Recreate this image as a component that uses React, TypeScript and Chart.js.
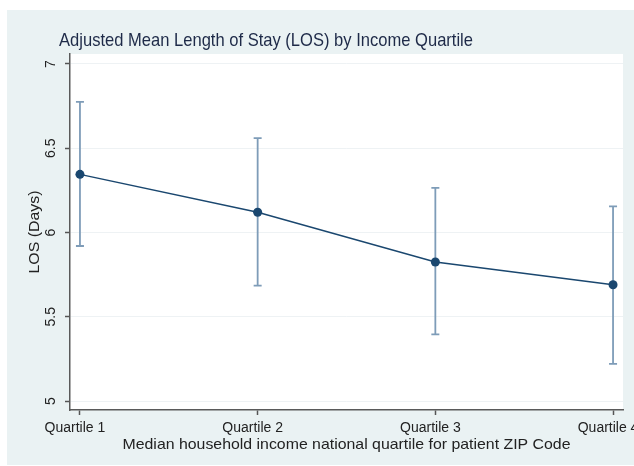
import React, { useEffect, useRef } from "react";
import { Chart, registerables } from "chart.js";

Chart.register(...registerables);

const categories = ["Quartile 1", "Quartile 2", "Quartile 3", "Quartile 4"];
const means = [6.345, 6.12, 5.825, 5.69];
const upper = [6.775, 6.56, 6.265, 6.155];
const lower = [5.92, 5.685, 5.395, 5.22];
const yTicks = [5, 5.5, 6, 6.5, 7];
const xTicks = [1, 2, 3, 4];

const titleText = "Adjusted Mean Length of Stay (LOS) by Income Quartile";
const yTitleText = "LOS (Days)";
const xTitleText = "Median household income national quartile for patient ZIP Code";

const FONT = "'Liberation Sans', Arial, Helvetica, sans-serif";

function drawText(
  ctx: CanvasRenderingContext2D,
  text: string,
  x: number,
  y: number,
  size: number,
  color: string,
  opts: { width?: number; rotate?: number; align?: CanvasTextAlign } = {}
) {
  ctx.save();
  ctx.font = `${size}px ${FONT}`;
  ctx.fillStyle = color;
  ctx.textAlign = opts.align || "center";
  ctx.textBaseline = "alphabetic";
  ctx.translate(x, y);
  if (opts.rotate) ctx.rotate(opts.rotate);
  if (opts.width) {
    const w = ctx.measureText(text).width;
    ctx.scale(opts.width / w, 1);
  }
  ctx.fillText(text, 0, 0);
  ctx.restore();
}

const decorPlugin = {
  id: "decor",
  beforeDraw(chart: any) {
    const { ctx, chartArea } = chart;
    ctx.save();
    ctx.fillStyle = "#ffffff";
    ctx.fillRect(0, 0, chart.width, chart.height);
    ctx.fillStyle = "#eaf2f3";
    ctx.fillRect(7, 10, chart.width - 7, chart.height - 11);
    ctx.fillStyle = "#ffffff";
    ctx.fillRect(chartArea.left, chartArea.top, chartArea.right - chartArea.left, chartArea.bottom - chartArea.top);
    ctx.restore();
  },
  beforeDatasetsDraw(chart: any) {
    const { ctx } = chart;
    const xs = chart.scales.x;
    const ys = chart.scales.y;
    ctx.save();
    ctx.strokeStyle = "#7e9cb8";
    ctx.lineWidth = 1.8;
    for (let i = 0; i < categories.length; i++) {
      const px = xs.getPixelForValue(xTicks[i]);
      const pu = ys.getPixelForValue(upper[i]);
      const pl = ys.getPixelForValue(lower[i]);
      ctx.beginPath();
      ctx.moveTo(px, pu);
      ctx.lineTo(px, pl);
      ctx.moveTo(px - 4, pu);
      ctx.lineTo(px + 4, pu);
      ctx.moveTo(px - 4, pl);
      ctx.lineTo(px + 4, pl);
      ctx.stroke();
    }
    ctx.restore();
  },
  afterDraw(chart: any) {
    const { ctx, chartArea } = chart;
    const ys = chart.scales.y;
    drawText(ctx, titleText, 59, 46, 18.5, "#1e2a48", { width: 414, align: "left" });
    for (const v of yTicks) {
      const py = ys.getPixelForValue(v);
      drawText(ctx, String(v), 55, py, 14, "#222222", { rotate: -Math.PI / 2 });
    }
    drawText(ctx, yTitleText, 39, 232, 15, "#222222", { rotate: -Math.PI / 2, width: 83 });
    const cx = (chartArea.left + chartArea.right) / 2;
    drawText(ctx, xTitleText, cx, 449, 14.5, "#222222", { width: 448 });
  },
};

export default function App() {
  const ref = useRef<HTMLCanvasElement | null>(null);
  useEffect(() => {
    document.body.style.margin = "0";
    const canvas = ref.current!;
    const chart = new Chart(canvas, {
      type: "line",
      data: {
        datasets: [
          {
            data: means.map((m, i) => ({ x: xTicks[i], y: m })),
            borderColor: "#1a476f",
            backgroundColor: "#1a476f",
            borderWidth: 1.5,
            pointRadius: 4.5,
            pointBorderWidth: 0,
            pointBackgroundColor: "#1a476f",
            tension: 0,
          },
        ],
      },
      options: {
        responsive: false,
        animation: false,
        devicePixelRatio: 1,
        layout: { padding: { top: 54, right: 11, left: 0, bottom: 0 } },
        plugins: { legend: { display: false }, tooltip: { enabled: false }, title: { display: false } },
        scales: {
          x: {
            type: "linear",
            min: 0.944,
            max: 4.056,
            afterBuildTicks: (s: any) => {
              s.ticks = xTicks.map((v) => ({ value: v }));
            },
            afterFit: (s: any) => {
              s.height = 56;
              s.paddingLeft = 0;
              s.paddingRight = 0;
            },
            ticks: {
              autoSkip: false,
              maxRotation: 0,
              minRotation: 0,
              padding: 5,
              labelOffset: -5,
              color: "#222222",
              font: { family: FONT, size: 14 },
              callback: (v: any) => categories[Number(v) - 1],
            },
            grid: { drawOnChartArea: false, drawTicks: true, tickLength: 5, tickColor: "#555555", tickWidth: 1.5 },
            border: { display: true, color: "#5a5a5a", width: 1.5 },
          },
          y: {
            type: "linear",
            min: 4.9466,
            max: 7.0593,
            afterBuildTicks: (s: any) => {
              s.ticks = yTicks.map((v) => ({ value: v }));
            },
            afterFit: (s: any) => {
              s.width = 70;
            },
            ticks: { display: false },
            grid: { color: "#eef2f4", lineWidth: 1, drawTicks: true, tickLength: 5, tickColor: "#555555", tickWidth: 1.5 },
            border: { display: true, color: "#5a5a5a", width: 1.5 },
          },
        },
      },
      plugins: [decorPlugin],
    } as any);
    return () => chart.destroy();
  }, []);
  return <canvas ref={ref} width={634} height={466} style={{ display: "block" }} />;
}
